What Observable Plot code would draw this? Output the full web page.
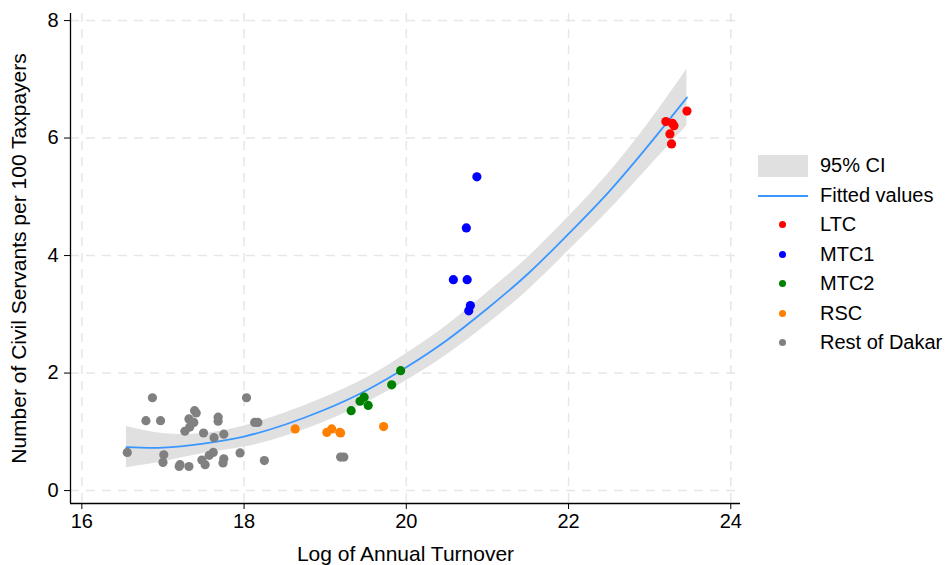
<!DOCTYPE html>
<html>
<head>
<meta charset="utf-8">
<script src="https://cdn.jsdelivr.net/npm/d3@7"></script>
<script src="https://cdn.jsdelivr.net/npm/@observablehq/plot@0.6"></script>
<style>
  html, body { margin: 0; padding: 0; background: #fff; }
  #wrap { position: relative; width: 952px; height: 565px; font-family: "Liberation Sans", Arial, Helvetica, sans-serif; }
  #legend { position: absolute; left: 758px; top: 151px; }
  .row { position: relative; height: 29.5px; display: flex; align-items: center; font-size: 20px; color: #000; }
  .sw { width: 50px; height: 29.5px; position: relative; margin-right: 12px; }
  .sw .box { position: absolute; left: 0; top: 4px; width: 50px; height: 22px; background: #e0e0e0; }
  .sw .ln { position: absolute; left: 0; top: 14px; width: 50px; height: 2px; background: #3a97ff; }
  .sw .dt { position: absolute; left: 21px; top: 11px; width: 7px; height: 7px; border-radius: 50%; }
</style>
</head>
<body>
<div id="wrap"><div id="chart"></div><div id="legend"></div></div>
<script>
// ---- data ----
const xTicks = [16, 18, 20, 22, 24];
const yTicks = [0, 2, 4, 6, 8];

// fitted quadratic and its 95% CI, read at these x positions
const fitX  = [16.55, 17, 17.5, 18, 18.5, 19, 19.5, 20, 20.5, 21, 21.5, 22, 22.5, 23, 23.46];
const fitY  = [0.74, 0.73, 0.80, 0.92, 1.12, 1.38, 1.70, 2.10, 2.56, 3.10, 3.69, 4.37, 5.09, 5.90, 6.69];
const ciLow = [0.39, 0.49, 0.63, 0.74, 0.92, 1.17, 1.49, 1.87, 2.31, 2.83, 3.41, 4.08, 4.77, 5.52, 6.21];
const ciHigh= [1.09, 0.97, 0.97, 1.10, 1.32, 1.59, 1.91, 2.33, 2.81, 3.37, 3.97, 4.66, 5.41, 6.28, 7.17];

const ltc = [[23.46,6.46],[23.20,6.28],[23.28,6.25],[23.30,6.21],[23.25,6.07],[23.27,5.90]];
const mtc1 = [[20.87,5.34],[20.74,4.47],[20.58,3.59],[20.75,3.59],[20.79,3.15],[20.77,3.06]];
const mtc2 = [[19.32,1.36],[19.43,1.52],[19.48,1.59],[19.53,1.45],[19.82,1.80],[19.93,2.04]];
const rsc = [[18.63,1.05],[19.02,0.99],[19.08,1.05],[19.18,0.99],[19.19,0.98],[19.72,1.09]];
const rest = [
  [16.56,0.65],[16.87,1.58],[16.79,1.19],[16.97,1.19],[17.01,0.61],[17.00,0.48],
  [17.21,0.44],[17.20,0.41],[17.32,0.41],[17.39,1.36],[17.41,1.32],[17.32,1.22],
  [17.38,1.16],[17.33,1.08],[17.27,1.01],[17.50,0.98],[17.68,1.25],[17.68,1.18],
  [17.63,0.90],[17.75,0.96],[17.48,0.52],[17.52,0.44],[17.57,0.60],[17.62,0.65],
  [17.75,0.54],[17.74,0.47],[17.95,0.64],[18.03,1.58],[18.13,1.16],[18.17,1.16],
  [18.25,0.51],[19.19,0.57],[19.23,0.57]
];

const groups = ["LTC", "MTC1", "MTC2", "RSC", "Rest of Dakar"];
const groupColors = ["#ff0000", "#0000ff", "#008000", "#ff8000", "#808080"];
const groupData = [ltc, mtc1, mtc2, rsc, rest];

// ---- build ----
const fitTable = fitX.map((x, i) => ({x, y: fitY[i], lo: ciLow[i], hi: ciHigh[i]}));
const xDom = [15.86, 24.12], yDom = [-0.22, 8.12];

const dotMarks = groupData.map((arr, i) =>
  Plot.dot(arr, {x: d => d[0], y: d => d[1], r: 4.6, fill: groupColors[i], stroke: "none"}));

const chart = Plot.plot({
  width: 750, height: 565,
  marginLeft: 70, marginRight: 10, marginTop: 13, marginBottom: 62,
  style: {fontFamily: '"Liberation Sans", Arial, Helvetica, sans-serif', fontSize: "20px", color: "#000", background: "#fff"},
  x: {domain: xDom},
  y: {domain: yDom},
  marks: [
    Plot.gridX(xTicks, {stroke: "#e6e6e6", strokeOpacity: 1, strokeWidth: 1.5, strokeDasharray: "9,7"}),
    Plot.gridY(yTicks, {stroke: "#e6e6e6", strokeOpacity: 1, strokeWidth: 1.5, strokeDasharray: "9,7"}),
    Plot.areaY(fitTable, {x: "x", y1: "lo", y2: "hi", fill: "#e0e0e0", curve: "natural"}),
    Plot.line(fitTable, {x: "x", y: "y", stroke: "#3a97ff", strokeWidth: 1.8, curve: "natural"}),
    ...dotMarks,
    Plot.axisX(xTicks, {tickSize: 6, tickPadding: 4, tickFormat: d => String(d), label: null, fontSize: 20}),
    Plot.axisY(yTicks, {tickSize: 6, tickPadding: 6, tickFormat: d => String(d), label: null, fontSize: 20}),
    Plot.axisX({ticks: [], tickSize: 0, label: "Log of Annual Turnover", labelAnchor: "center", labelArrow: "none", labelOffset: 57, fontSize: 21}),
    Plot.axisY({ticks: [], tickSize: 0, label: "Number of Civil Servants per 100 Taxpayers", labelAnchor: "center", labelArrow: "none", labelOffset: 59, fontSize: 21}),
    Plot.ruleX([xDom[0]], {stroke: "#000", strokeWidth: 1.3}),
    Plot.ruleY([yDom[0]], {stroke: "#000", strokeWidth: 1.3})
  ]
});
document.getElementById("chart").appendChild(chart);

// ---- legend ----
const legend = document.getElementById("legend");
function addRow(swatchHTML, label) {
  const row = document.createElement("div");
  row.className = "row";
  row.innerHTML = `<div class="sw">${swatchHTML}</div><span>${label}</span>`;
  legend.appendChild(row);
}
addRow('<div class="box"></div>', "95% CI");
addRow('<div class="ln"></div>', "Fitted values");
groups.forEach((g, i) => addRow(`<div class="dt" style="background:${groupColors[i]}"></div>`, g));
</script>
</body>
</html>
